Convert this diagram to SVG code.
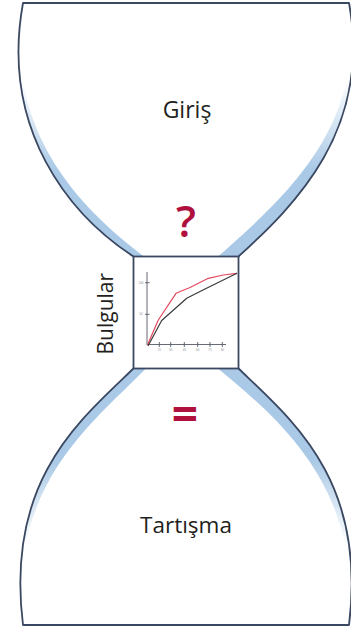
<svg xmlns="http://www.w3.org/2000/svg" width="351" height="628" viewBox="0 0 351 628">
  <style>
    .outline { fill: none; stroke: #3b4862; stroke-width: 1.8; stroke-linejoin: round; }
    .body { fill: #ffffff; stroke: none; }
    .band { stroke: none; }
    .label { font-family: "Open Sans", "Liberation Sans", sans-serif; fill: #231f20; text-anchor: middle; }
    .mark { font-family: "Open Sans", "Liberation Sans", sans-serif; fill: #b0103e; text-anchor: middle; }
    .axis { stroke: #555a66; stroke-width: 0.9; fill: none; }
    .tick { font-family: "Liberation Sans", sans-serif; font-size: 3px; fill: #8a8f99; text-anchor: middle; }
  </style>
  <defs>
    <linearGradient id="fadeTop" gradientUnits="userSpaceOnUse" x1="0" y1="80" x2="0" y2="170">
      <stop offset="0" stop-color="#a9c9e6" stop-opacity="0"/>
      <stop offset="1" stop-color="#a9c9e6" stop-opacity="1"/>
    </linearGradient>
    <linearGradient id="fadeBottom" gradientUnits="userSpaceOnUse" x1="0" y1="545" x2="0" y2="460">
      <stop offset="0" stop-color="#a9c9e6" stop-opacity="0"/>
      <stop offset="1" stop-color="#a9c9e6" stop-opacity="1"/>
    </linearGradient>
  </defs>
  <rect width="351" height="628" fill="#ffffff"/>

  <g id="giris">
    <path class="body" d="M23,3 L349,3 C372,130 295,205 238.5,256.5 L133.5,256.5 C70,215 0,130 23,3 Z"/>
    <path class="band" fill="url(#fadeTop)" d="M133.5,256.5 C70,215 0,130 23,3 C4,128 76,205 144,256.5 Z"/>
    <path class="band" fill="url(#fadeTop)" d="M238.5,256.5 C295,205 372,130 349,3 C366,128 284,198 218,256.5 Z"/>
    <path class="outline" d="M133.5,256.5 C70,215 0,130 23,3 L349,3 C372,130 295,205 238.5,256.5"/>
    <text class="label" x="187" y="118.3" font-size="23">Giriş</text>
    <text class="mark" x="186" y="236.7" font-size="44" font-weight="600">?</text>
  </g>

  <g id="tartisma">
    <path class="body" d="M133.5,368.5 L238.5,368.5 C292,420 367,480 349,625 L23,625 C5,480 80,420 133.5,368.5 Z"/>
    <path class="band" fill="url(#fadeBottom)" d="M133.5,368.5 C80,420 5,480 23,625 C8,486 90,425 146,368.5 Z"/>
    <path class="band" fill="url(#fadeBottom)" d="M238.5,368.5 C292,420 367,480 349,625 C362,488 280,420 218,368.5 Z"/>
    <path class="outline" d="M133.5,368.5 C80,420 5,480 23,625 L349,625 C367,480 292,420 238.5,368.5"/>
    <text class="mark" x="185" y="431" font-size="46" font-weight="bold">=</text>
    <text class="label" x="186" y="532.7" font-size="22.5">Tartışma</text>
  </g>

  <g id="bulgular">
    <rect x="133.5" y="256.5" width="105" height="112" fill="#ffffff" stroke="#3b4862" stroke-width="1.8"/>
    <text class="label" font-size="21" transform="translate(113.3,313.7) rotate(-90)">Bulgular</text>
    <g id="chart">
      <line class="axis" x1="147" y1="272" x2="147" y2="345"/>
      <line class="axis" x1="147" y1="344.5" x2="226" y2="344.5"/>
      <line class="axis" x1="145" y1="282.7" x2="149.5" y2="282.7"/>
      <line class="axis" x1="145" y1="314.3" x2="149.5" y2="314.3"/>
      <line class="axis" x1="159.3" y1="342" x2="159.3" y2="347"/>
      <line class="axis" x1="170.7" y1="342" x2="170.7" y2="347"/>
      <line class="axis" x1="184.3" y1="342" x2="184.3" y2="347"/>
      <line class="axis" x1="197.7" y1="342" x2="197.7" y2="347"/>
      <line class="axis" x1="210" y1="342" x2="210" y2="347"/>
      <line class="axis" x1="222.3" y1="342" x2="222.3" y2="347"/>
      <text class="tick" x="141" y="283.7">100</text>
      <text class="tick" x="141" y="315.3">50</text>
      <text class="tick" x="159.3" y="351">15</text>
      <text class="tick" x="170.7" y="351">30</text>
      <text class="tick" x="184.3" y="351">45</text>
      <text class="tick" x="197.7" y="351">60</text>
      <text class="tick" x="210" y="351">75</text>
      <text class="tick" x="222.3" y="351">90</text>
      <polyline fill="none" stroke="#e5485f" stroke-width="1.2" stroke-linejoin="round" points="147.5,345 158.3,320 176,293.3 190,287.5 208.3,278.3 223.3,275 237,273.3"/>
      <polyline fill="none" stroke="#3a3a3a" stroke-width="1.2" stroke-linejoin="round" points="148,346 161.7,320.5 186.7,298.3 203,290 216.7,283.3 237,273.3"/>
    </g>
  </g>
</svg>
